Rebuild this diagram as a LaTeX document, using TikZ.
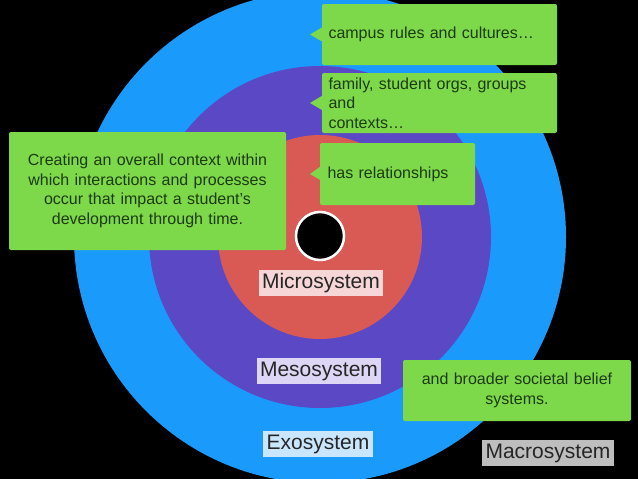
\documentclass[tikz,border=0pt]{standalone}
\usepackage{fontspec}
\setmainfont{Liberation Sans}
\definecolor{cblue}{HTML}{1A9BFC}
\definecolor{cpurp}{HTML}{5A48C4}
\definecolor{cred}{HTML}{D95A55}
\definecolor{cgreen}{HTML}{7DD94A}
\definecolor{cpink}{HTML}{F6D6D6}
\definecolor{clav}{HTML}{DDD6F4}
\definecolor{clblue}{HTML}{C9E6FC}
\definecolor{cgrey}{HTML}{BEBEBE}
\definecolor{ctext}{HTML}{1E3A10}
\tikzset{
 callout/.style={fill=cgreen,rounded corners=2pt,inner sep=0pt,text=ctext,font=\fontsize{16}{19.5}\selectfont},
 lbl/.style={inner sep=3.5pt,font=\fontsize{21}{23}\selectfont,text=black!85}
}
\begin{document}
\begin{tikzpicture}[x=1pt,y=-1pt]
\fill[black] (0,0) rectangle (638,479);
\useasboundingbox (0,0) rectangle (638,479);
\clip (0,0) rectangle (638,479);
\fill[cblue] (320,237) circle (246);
\fill[cpurp] (320,237) circle (171);
\fill[cred] (320,237) circle (102);
\draw[white,line width=2.5pt,fill=black] (320,236) circle (24);
\node[lbl,fill=cpink] (mic) at (321,283) {Microsystem};
\node[lbl,fill=clav] (mes) at (319,371) {Mesosystem};
\node[lbl,fill=clblue] (exo) at (318,444) {Exosystem};
\node[lbl,fill=cgrey] (mac) at (548,453) {Macrosystem};
% callouts
\node[callout,minimum width=235,minimum height=61,text width=222,align=left] (c1) at (439.5,34.5) {campus rules and cultures\ldots};
\fill[cgreen] (c1.west)++(0,-7) -- (310,34.5) -- ++(12,7) -- cycle;
\node[callout,minimum width=235,minimum height=60,text width=222,align=left] (c2) at (439.5,103) {family, student orgs, groups and\\contexts\ldots};
\fill[cgreen] (c2.west)++(0,-7) -- (310,103) -- ++(12,7) -- cycle;
\node[callout,minimum width=155,minimum height=62,text width=140,align=left] (c3) at (397.5,174) {has relationships};
\fill[cgreen] (c3.west)++(0,-7) -- (310,174) -- ++(12,7) -- cycle;
\node[callout,minimum width=277,minimum height=118,text width=275,align=center] (c4) at (147.5,191) {Creating an overall context within\\which interactions and processes\\occur that impact a student's\\development through time.};
\node[callout,minimum width=228,minimum height=61,text width=225,align=center] (c5) at (517,390.5) {and broader societal belief\\systems.};
\end{tikzpicture}
\end{document}
